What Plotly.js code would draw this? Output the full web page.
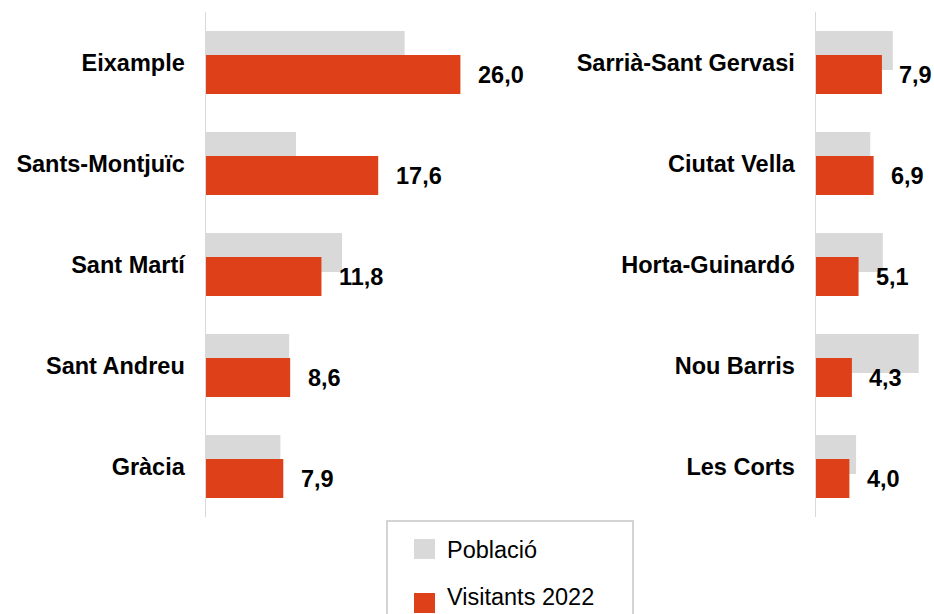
<!DOCTYPE html>
<html>
<head>
<meta charset="utf-8">
<script src="https://cdn.plot.ly/plotly-3.0.1.min.js"></script>
<style>html,body{margin:0;padding:0;background:#fff;}#chart{width:934px;height:614px;}</style>
</head>
<body>
<div id="chart"></div>
<script>
const leftCats = ['Eixample', 'Sants-Montjuïc', 'Sant Martí', 'Sant Andreu', 'Gràcia'];
const leftPoblacio = [20.3, 9.2, 13.9, 8.5, 7.6];
const leftVisitants = [26.0, 17.6, 11.8, 8.6, 7.9];

const rightCats = ['Sarrià-Sant Gervasi', 'Ciutat Vella', 'Horta-Guinardó', 'Nou Barris', 'Les Corts'];
const rightPoblacio = [9.2, 6.5, 8.0, 12.3, 4.8];
const rightVisitants = [7.9, 6.9, 5.1, 4.3, 4.0];

const legendNames = ['Població', 'Visitants 2022'];

const W = 934, H = 614;
const px = v => v / W;
const py = v => 1 - v / H;
const GRAY = '#d9d9d9';
const RED = '#de4119';
const FONT = 'Liberation Sans, Arial, sans-serif';
const fmt = v => v.toFixed(1).replace('.', ',');

function barPair(cats, pob, vis, xa, ya) {
  return [
    {type: 'bar', orientation: 'h', y: cats, x: pob, xaxis: xa, yaxis: ya,
     marker: {color: GRAY}, width: 0.386, offset: -0.312, name: legendNames[0],
     showlegend: false, hoverinfo: 'x+y'},
    {type: 'bar', orientation: 'h', y: cats, x: vis, xaxis: xa, yaxis: ya,
     marker: {color: RED}, width: 0.386, offset: -0.074, name: legendNames[1],
     showlegend: false, hoverinfo: 'x+y'}
  ];
}

const data = [
  ...barPair(leftCats, leftPoblacio, leftVisitants, 'x', 'y'),
  ...barPair(rightCats, rightPoblacio, rightVisitants, 'x2', 'y2')
];

function valueAnn(cats, vis, xr, yr) {
  return cats.map((c, i) => ({
    x: vis[i], y: c, xref: xr, yref: yr, text: fmt(vis[i]),
    showarrow: false, xanchor: 'left', yanchor: 'middle', xshift: 15.5, yshift: -12,
    font: {family: FONT, size: 23.5, color: '#000', weight: 'bold'}
  }));
}

const yDomain = [py(517), py(12)];
const yCommon = {
  type: 'category', range: [4.5, -0.5], domain: yDomain,
  showline: true, linecolor: '#d9d9d9', linewidth: 1.5,
  showgrid: false, zeroline: false, ticks: '',
  ticklabelstandoff: 15,
  tickfont: {family: FONT, size: 23.5, color: '#000', weight: 'bold'}
};
const xCommon = {visible: false, showgrid: false, zeroline: false, fixedrange: true};

const layout = {
  width: W, height: H,
  margin: {l: 0, r: 0, t: 0, b: 0},
  paper_bgcolor: '#fff', plot_bgcolor: '#fff',
  barmode: 'overlay',
  showlegend: false,
  font: {family: FONT, color: '#000'},
  xaxis: Object.assign({}, xCommon, {domain: [px(206), px(560)], range: [0, 354 / 9.785], anchor: 'y'}),
  yaxis: Object.assign({}, yCommon, {anchor: 'x'}),
  xaxis2: Object.assign({}, xCommon, {domain: [px(816), 1], range: [0, 118 / 8.35], anchor: 'y2'}),
  yaxis2: Object.assign({}, yCommon, {anchor: 'x2'}),
  shapes: [
    {type: 'rect', xref: 'paper', yref: 'paper', x0: px(387), x1: px(633), y0: py(640), y1: py(521),
     line: {color: '#c6c6c6', width: 1.5}, fillcolor: 'rgba(0,0,0,0)'},
    {type: 'rect', xref: 'paper', yref: 'paper', x0: px(414), x1: px(435), y0: py(559), y1: py(539),
     line: {width: 0}, fillcolor: GRAY},
    {type: 'rect', xref: 'paper', yref: 'paper', x0: px(414), x1: px(435), y0: py(613), y1: py(593),
     line: {width: 0}, fillcolor: RED}
  ],
  annotations: [
    ...valueAnn(leftCats, leftVisitants, 'x', 'y'),
    ...valueAnn(rightCats, rightVisitants, 'x2', 'y2'),
    {xref: 'paper', yref: 'paper', x: px(445), y: py(550), text: legendNames[0], showarrow: false,
     xanchor: 'left', yanchor: 'middle', font: {family: FONT, size: 23.5, color: '#000'}},
    {xref: 'paper', yref: 'paper', x: px(445), y: py(597), text: legendNames[1], showarrow: false,
     xanchor: 'left', yanchor: 'middle', font: {family: FONT, size: 23.5, color: '#000'}}
  ]
};

Plotly.newPlot('chart', data, layout, {displayModeBar: false, staticPlot: true});
</script>
</body>
</html>
